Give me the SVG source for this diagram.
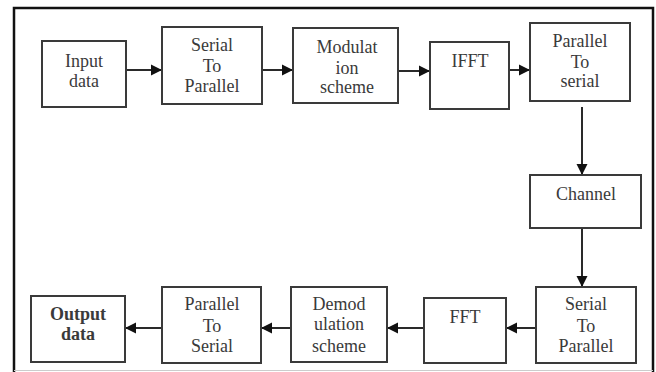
<svg xmlns="http://www.w3.org/2000/svg" width="656" height="372" viewBox="0 0 656 372" font-family="Liberation Serif, DejaVu Serif, serif">
<style>
.box{fill:#fff;stroke:#3a3a3a;stroke-width:2}
text{font-family:"Liberation Serif","DejaVu Serif",serif;font-size:18px;fill:#3a3a3a;text-anchor:middle}
.b{font-weight:bold}
.c{stroke:#2a2a2a;stroke-width:2;fill:none;marker-end:url(#ah)}
</style>
<defs>
<marker id="ah" markerWidth="12" markerHeight="12" refX="11" refY="6" orient="auto" markerUnits="userSpaceOnUse">
<path d="M0,0.5 L11,6 L0,11.5 Z" fill="#111"/>
</marker>
</defs>
<rect x="0" y="0" width="656" height="372" fill="#fff"/>
<path d="M14,372 L14,8 L653,8 L653,372" fill="none" stroke="#111" stroke-width="2.5"/>
<line x1="14" y1="370.5" x2="653" y2="370.5" stroke="#ccc" stroke-width="1"/>

<g id="connectors">
<line class="c" x1="126" y1="70" x2="162" y2="70"/>
<line class="c" x1="262" y1="70" x2="293" y2="70"/>
<line class="c" x1="398" y1="71" x2="430" y2="71"/>
<line class="c" x1="509" y1="70" x2="530" y2="70"/>
<line class="c" x1="582" y1="107" x2="582" y2="175"/>
<line class="c" x1="582" y1="228" x2="582" y2="287"/>
<line class="c" x1="536" y1="328" x2="506" y2="328"/>
<line class="c" x1="424" y1="328" x2="387" y2="328"/>
<line class="c" x1="291" y1="328" x2="261" y2="328"/>
<line class="c" x1="162" y1="328" x2="125" y2="328"/>
</g>

<g id="input">
<rect class="box" x="42" y="41" width="84" height="66"/>
<text x="84" y="67">Input</text>
<text x="84" y="87">data</text>
</g>
<g id="s2p1">
<rect class="box" x="162" y="27" width="100" height="77"/>
<text x="212" y="51">Serial</text>
<text x="212" y="72">To</text>
<text x="212" y="92">Parallel</text>
</g>
<g id="mod">
<rect class="box" x="293" y="28" width="105" height="75"/>
<text x="347" y="53">Modulat</text>
<text x="347" y="74">ion</text>
<text x="347" y="93">scheme</text>
</g>
<g id="ifft">
<rect class="box" x="430" y="42" width="79" height="67"/>
<text x="470" y="67">IFFT</text>
</g>
<g id="p2s1">
<rect class="box" x="530" y="23" width="100" height="78"/>
<text x="580" y="47">Parallel</text>
<text x="580" y="68">To</text>
<text x="580" y="87">serial</text>
</g>
<g id="channel">
<rect class="box" x="530" y="175" width="111" height="53"/>
<text x="586" y="200">Channel</text>
</g>
<g id="s2p2">
<rect class="box" x="536" y="287" width="100" height="76"/>
<text x="586" y="310">Serial</text>
<text x="586" y="332">To</text>
<text x="586" y="352">Parallel</text>
</g>
<g id="fft">
<rect class="box" x="424" y="298" width="82" height="65"/>
<text x="465" y="323">FFT</text>
</g>
<g id="demod">
<rect class="box" x="291" y="287" width="96" height="75"/>
<text x="339" y="310">Demod</text>
<text x="339" y="330">ulation</text>
<text x="339" y="352">scheme</text>
</g>
<g id="p2s2">
<rect class="box" x="162" y="287" width="99" height="76"/>
<text x="212" y="310">Parallel</text>
<text x="212" y="332">To</text>
<text x="212" y="352">Serial</text>
</g>
<g id="output">
<rect class="box" x="31" y="296" width="94" height="66"/>
<text class="b" x="78" y="320">Output</text>
<text class="b" x="78" y="340">data</text>
</g>
</svg>
